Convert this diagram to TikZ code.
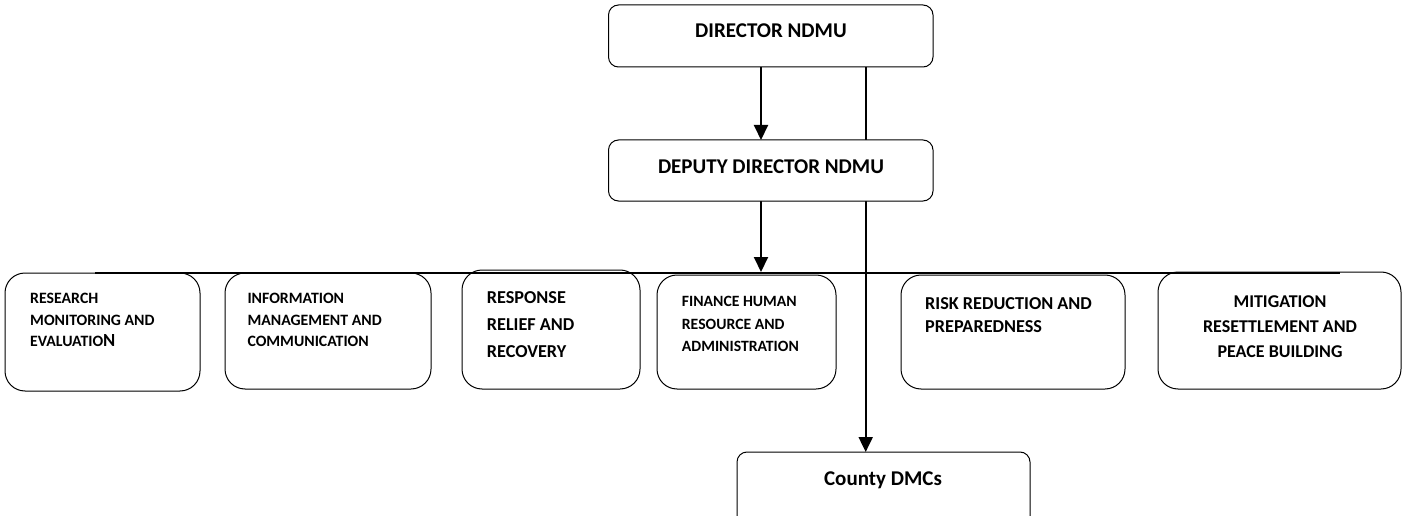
\documentclass[tikz,border=0pt]{standalone}
\usepackage{fontspec}
\setmainfont{Carlito}
\usetikzlibrary{arrows.meta}
\begin{document}
\begin{tikzpicture}[x=1pt,y=-1pt,
  box/.style={draw=black, line width=1pt, fill=white, inner sep=0pt},
  topbox/.style={box, rounded corners=10pt},
  unitbox/.style={box, rounded corners=20pt},
  conn/.style={draw=black, line width=2pt},
  arr/.style={conn, -{Triangle[width=14pt,length=15pt]}},
  lbl/.style={inner sep=0pt, font=\bfseries}
]
\useasboundingbox (0,0) rectangle (1406,516);
\clip (0,0) rectangle (1406,516);

% connector end points
\coordinate (dirS) at (761,67);
\coordinate (depN) at (761,140);
\coordinate (depS) at (761,201);
\coordinate (busT) at (761,272);
\coordinate (longS) at (865.7,67);
\coordinate (ctyN) at (865.7,452);
\coordinate (busL) at (95,273);
\coordinate (busR) at (1340,273);

% connectors (drawn first so the boxes cover them)
\draw[arr] (dirS) -- (depN);
\draw[arr] (depS) -- (busT);
\draw[arr] (longS) -- (ctyN);

% management boxes
\node[topbox, minimum width=324.5pt, minimum height=62pt] (dir) at (770.75,36) {};
\node[topbox, minimum width=324.5pt, minimum height=61pt] (dep) at (770.75,170.5) {};

% unit boxes
\node[unitbox, minimum width=195pt, minimum height=118pt] (b1) at (102.5,332) {};
\node[unitbox, minimum width=206pt, minimum height=116pt] (b2) at (328,331) {};
\node[unitbox, minimum width=178pt, minimum height=119pt] (b3) at (551,329.5) {};
\node[unitbox, minimum width=179pt, minimum height=114pt] (b4) at (746.5,332) {};
\node[unitbox, minimum width=224pt, minimum height=114pt] (b5) at (1013,332) {};
\node[unitbox, minimum width=243pt, minimum height=117pt] (b6) at (1279.5,330.5) {};

% county box
\node[topbox, minimum width=293pt, minimum height=80pt] (cty) at (883.5,492) {};

% horizontal distribution line
\draw[conn] (busL) -- (busR);

% texts
\node[lbl, font=\bfseries\fontsize{21}{24}\selectfont, anchor=base] (tdir) at (771,37.3) {DIRECTOR NDMU};
\node[lbl, font=\bfseries\fontsize{21}{24}\selectfont, anchor=base] (tdep) at (771,173.3) {DEPUTY DIRECTOR NDMU};
\node[lbl, font=\bfseries\fontsize{21}{24}\selectfont, anchor=base] (tcty) at (883,485) {County DMCs};

\node[lbl, font=\bfseries\fontsize{15.8}{21.7}\selectfont, align=left, anchor=north west] (t1) at (30,293)
  {RESEARCH\\MONITORING AND\\EVALUATIO{\fontsize{18.5}{21.7}\selectfont N}};
\node[lbl, font=\bfseries\fontsize{15.8}{21.7}\selectfont, align=left, anchor=north west] (t2) at (247.3,293)
  {INFORMATION\\MANAGEMENT AND\\COMMUNICATION};
\node[lbl, font=\bfseries\fontsize{18.2}{27}\selectfont, align=left, anchor=north west] (t3) at (486.7,291.3)
  {RESPONSE\\RELIEF AND\\RECOVERY};
\node[lbl, font=\bfseries\fontsize{15.7}{22.5}\selectfont, align=left, anchor=north west] (t4) at (681.7,296.2)
  {FINANCE HUMAN\\RESOURCE AND\\ADMINISTRATION};
\node[lbl, font=\bfseries\fontsize{18.2}{23}\selectfont, align=left, anchor=north west] (t5) at (925,296.9)
  {RISK REDUCTION AND\\PREPAREDNESS};
\node[lbl, font=\bfseries\fontsize{18}{25}\selectfont, align=center, anchor=north] (t6) at (1280,295.3)
  {MITIGATION\\RESETTLEMENT AND\\PEACE BUILDING};
\end{tikzpicture}
\end{document}
